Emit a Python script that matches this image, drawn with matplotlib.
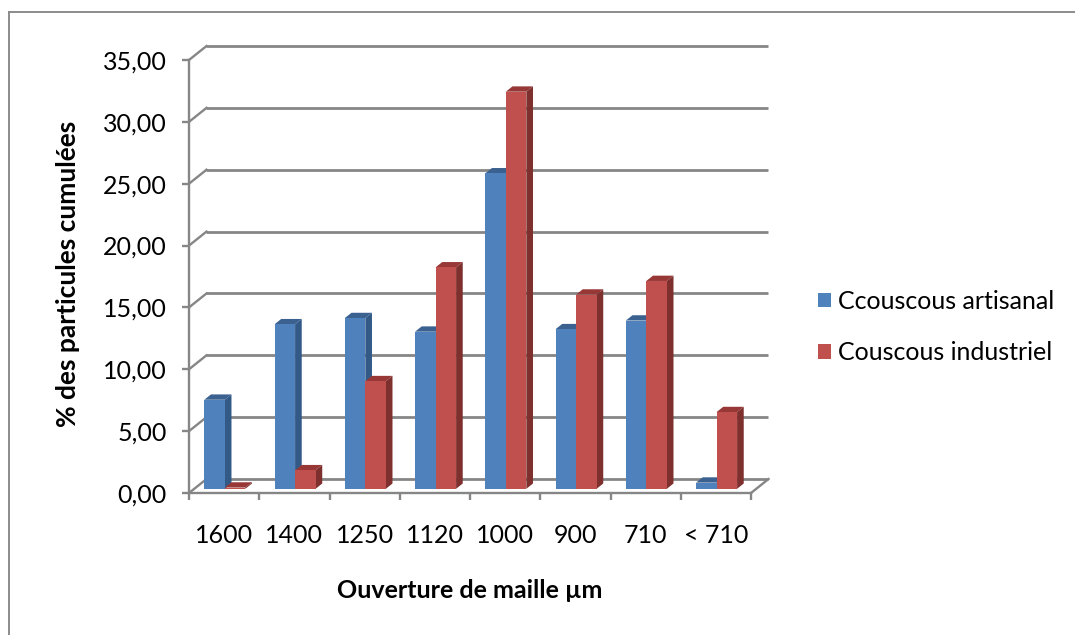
import matplotlib
matplotlib.use("Agg")
import matplotlib.pyplot as plt
from matplotlib.patches import Polygon, Patch
from matplotlib.lines import Line2D

# ========================= Data =========================
categories = ["1600", "1400", "1250", "1120", "1000", "900", "710", "< 710"]
artisanal = [7.2, 13.3, 13.8, 12.7, 25.5, 12.9, 13.6, 0.5]
industriel = [0.1, 1.5, 8.7, 17.9, 32.1, 15.7, 16.8, 6.2]
series_names = ["Ccouscous artisanal", "Couscous industriel"]
yticks = [0, 5, 10, 15, 20, 25, 30, 35]

# ========================= Style =========================
W, H = 1075, 635
FONT = "Lato"
GRID = "#868686"
BLUE = ("#4F81BD", "#3A6190", "#335A87")   # front, top, side
RED = ("#C0504D", "#973836", "#7D302E")
DX, DY = 0.249, 1.13      # 3D depth offset (data units, full depth)
BAR_W = 0.292
BAR_D0, BAR_D1 = 0.30, 0.68  # bar depth range

plt.rcParams['font.family'] = [FONT, 'DejaVu Sans']

fig = plt.figure(figsize=(W / 100, H / 100), dpi=100)
ax = fig.add_axes([189 / W, (H - 493) / H, (751 - 189) / W, (493 - 60) / H])
ax.set_xlim(0, len(categories))
ax.set_ylim(0, 35)
ax.patch.set_visible(False)

# ---- axes (front) ----
for s in ["top", "right"]:
    ax.spines[s].set_visible(False)
for s in ["left", "bottom"]:
    ax.spines[s].set_color(GRID)
    ax.spines[s].set_linewidth(1.7)
ax.set_yticks(yticks)
ax.set_yticklabels([f"{v:.2f}".replace(".", ",") for v in yticks])
ax.tick_params(axis="y", direction="out", length=5, width=1.7, color=GRID,
               labelsize=18, pad=11)
ax.set_xticks(range(len(categories) + 1))
ax.set_xticklabels([])
ax.tick_params(axis="x", which="major", direction="out", length=5, width=1.7,
               color=GRID)
ax.set_xticks([k + 0.5 for k in range(len(categories))], minor=True)
ax.set_xticklabels(categories, minor=True)
ax.tick_params(axis="x", which="minor", length=0, labelsize=18, pad=22)

# ---- back wall, side wall, floor ----
n = len(categories)
for v in yticks:
    ax.plot([DX, n + DX], [v + DY, v + DY], color=GRID, lw=2.0,
            clip_on=False, zorder=1, solid_capstyle="butt")
    ax.plot([0, DX], [v, v + DY], color=GRID, lw=1.7, clip_on=False, zorder=1)
ax.plot([n, n + DX], [0, DY], color=GRID, lw=1.7, clip_on=False, zorder=1)

# ---- 3D bars ----
def draw_bar(x0, h, cols, z):
    b0 = BAR_D0 * DY
    xf = x0 + BAR_D0 * DX
    dd = BAR_D1 - BAR_D0
    ax.bar(xf, h, width=BAR_W, bottom=b0, align="edge", color=cols[0],
           zorder=z + 0.2, clip_on=False, linewidth=0)
    top = b0 + h
    ax.add_patch(Polygon([(xf, top), (xf + BAR_W, top),
                          (xf + BAR_W + dd * DX, top + dd * DY),
                          (xf + dd * DX, top + dd * DY)],
                         closed=True, fc=cols[1], ec="none", zorder=z,
                         clip_on=False))
    ax.add_patch(Polygon([(xf + BAR_W, b0), (xf + BAR_W, top),
                          (xf + BAR_W + dd * DX, top + dd * DY),
                          (xf + BAR_W + dd * DX, b0 + dd * DY)],
                         closed=True, fc=cols[2], ec="none", zorder=z,
                         clip_on=False))

for k in range(n):
    start = k + 0.5 - BAR_W - BAR_D0 * DX + 0.01
    draw_bar(start, artisanal[k], BLUE, 3 + k)
    draw_bar(start + BAR_W, industriel[k], RED, 3.5 + k)

# ---- titles ----
fig.text(68 / W, 1 - 274 / H, "% des particules cumulées", rotation=90,
         ha="center", va="center", fontsize=19, fontweight="bold")
fig.text(470 / W, 1 - 590 / H, "Ouverture de maille µm",
         ha="center", va="center", fontsize=18, fontweight="bold")

# ---- legend ----
handles = [Patch(fc=BLUE[0], ec="none"), Patch(fc=RED[0], ec="none")]
fig.legend(handles, series_names, loc="center left",
           bbox_to_anchor=(818 / W, 1 - 327 / H), frameon=False,
           fontsize=18, handlelength=0.5, handleheight=0.5,
           handletextpad=0.32, labelspacing=1.15, borderpad=0,
           borderaxespad=0)

# ---- chart border (left and top visible) ----
fig.add_artist(Line2D([9 / W, 9 / W], [0, 1 - 12 / H], color="#8C8C8C",
                      lw=1.4, transform=fig.transFigure))
fig.add_artist(Line2D([9 / W, 1], [1 - 12 / H, 1 - 12 / H], color="#8C8C8C",
                      lw=1.4, transform=fig.transFigure))

fig.savefig("out.png", dpi=100)
